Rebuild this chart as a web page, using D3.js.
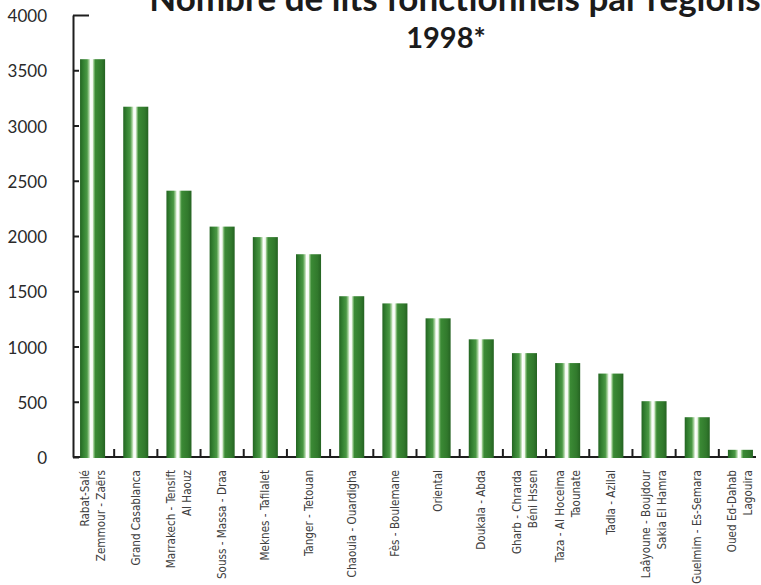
<!DOCTYPE html>
<html>
<head>
<meta charset="utf-8">
<script src="https://cdn.jsdelivr.net/npm/d3@7"></script>
<style>
  html, body { margin: 0; padding: 0; background: #fff; }
  svg { display: block; }
</style>
</head>
<body>
<svg id="chart" width="761" height="585"></svg>
<script>
// Functional hospital beds by region, Morocco 1998
const regions = [
  ["Rabat-Salé", "Zemmour - Zaërs"],
  ["Grand Casablanca"],
  ["Marrakech - Tensift", "Al Haouz"],
  ["Souss - Massa - Draa"],
  ["Meknes - Tafilalet"],
  ["Tanger - Tetouan"],
  ["Chaouia - Ouardigha"],
  ["Fès - Boulemane"],
  ["Oriental"],
  ["Doukala - Abda"],
  ["Gharb - Chrarda", "Béni Hssen"],
  ["Taza - Al Hoceima", "Taounate"],
  ["Tadla - Azilal"],
  ["Laâyoune - Boujdour", "Sakia El Hamra"],
  ["Guelmim - Es-Semara"],
  ["Oued Ed-Dahab", "Lagouira"]
];
const beds = [3600, 3170, 2410, 2085, 1990, 1835, 1455, 1390, 1255, 1065, 940, 850, 755, 505, 360, 65];
const yTicks = [0, 500, 1000, 1500, 2000, 2500, 3000, 3500, 4000];
const titleLines = ["Nombre de lits fonctionnels par régions", "1998*"];

const svg = d3.select("#chart");
const axisX = 73, baseY = 457, topY = 15;

const x = d3.scaleBand()
  .domain(d3.range(regions.length))
  .range([74, 759])
  .paddingInner(0.42)
  .paddingOuter(0.14);

const y = d3.scaleLinear().domain([0, 4000]).range([baseY, topY]);

// Bar fill: two green columns with a pale stripe between them
const defs = svg.append("defs");
const grad = defs.append("linearGradient").attr("id", "barFill")
  .attr("x1", "0%").attr("x2", "100%").attr("y1", "0%").attr("y2", "0%");
[
  [0, "#246522"], [0.12, "#327f30"], [0.28, "#4a9844"], [0.36, "#a7d19d"],
  [0.42, "#ffffff"], [0.50, "#f4f9f1"], [0.55, "#8cc281"], [0.61, "#3b8a35"],
  [0.86, "#31792c"], [1, "#256322"]
].forEach(([o, c]) => grad.append("stop").attr("offset", o).attr("stop-color", c));

// Title (first line is larger and runs off the top edge)
svg.append("g").selectAll("text").data(titleLines).join("text")
  .attr("x", (d, i) => i === 0 ? 455 : 446)
  .attr("y", (d, i) => i === 0 ? 11 : 48)
  .attr("text-anchor", "middle")
  .attr("font-family", "Lato, 'Open Sans', sans-serif")
  .attr("font-weight", "bold")
  .attr("font-size", (d, i) => i === 0 ? 35 : 29)
  .attr("fill", "#1b1b1b")
  .text(d => d);

// Baseline with ticks between bars
svg.append("line")
  .attr("x1", axisX).attr("x2", 756)
  .attr("y1", baseY).attr("y2", baseY)
  .attr("stroke", "#1e1e1e").attr("stroke-width", 2);

const gap = x.step() - x.bandwidth();
svg.append("g").selectAll("line").data(d3.range(regions.length)).join("line")
  .attr("x1", i => x(i) + x.bandwidth() + gap / 2)
  .attr("x2", i => x(i) + x.bandwidth() + gap / 2)
  .attr("y1", baseY)
  .attr("y2", baseY - 8)
  .attr("stroke", "#1e1e1e").attr("stroke-width", 2);

// Bars
svg.append("g").selectAll("rect").data(beds).join("rect")
  .attr("x", (d, i) => x(i))
  .attr("y", d => y(d))
  .attr("width", x.bandwidth())
  .attr("height", d => baseY + 1 - y(d))
  .attr("fill", "url(#barFill)");

// Value axis
const yAxis = svg.append("g")
  .attr("transform", `translate(${axisX},0)`)
  .call(d3.axisRight(y).tickValues(yTicks).tickFormat(d3.format("d")).tickSize(6).tickSizeOuter(0));
yAxis.select(".domain").attr("stroke", "#1e1e1e").attr("stroke-width", 2);
yAxis.selectAll(".tick line").attr("stroke", "#1e1e1e").attr("stroke-width", 2)
  .attr("x2", d => d === 4000 ? 16 : 6);
yAxis.selectAll(".tick text")
  .attr("x", -26)
  .attr("dy", "0.68em")
  .attr("y", -5)
  .attr("text-anchor", "end")
  .attr("font-family", "Lato, 'Open Sans', sans-serif")
  .attr("font-size", 17)
  .attr("fill", "#2a2a2a");

// Region labels, rotated
const lab = svg.append("g").selectAll("g").data(regions).join("g")
  .attr("transform", (d, i) => `translate(${x(i) + x.bandwidth() / 2},470) rotate(-90)`);
lab.selectAll("text").data(d => d.map((t, j) => ({ t, j, n: d.length }))).join("text")
  .attr("x", 0)
  .attr("y", d => (d.j - (d.n - 1) / 2) * 16)
  .attr("dy", "0.35em")
  .attr("text-anchor", "end")
  .attr("font-family", "'Liberation Sans Narrow', 'DejaVu Sans Condensed', sans-serif")
  .attr("font-size", 11.6)
  .attr("fill", "#404040")
  .text(d => d.t);
</script>
</body>
</html>
